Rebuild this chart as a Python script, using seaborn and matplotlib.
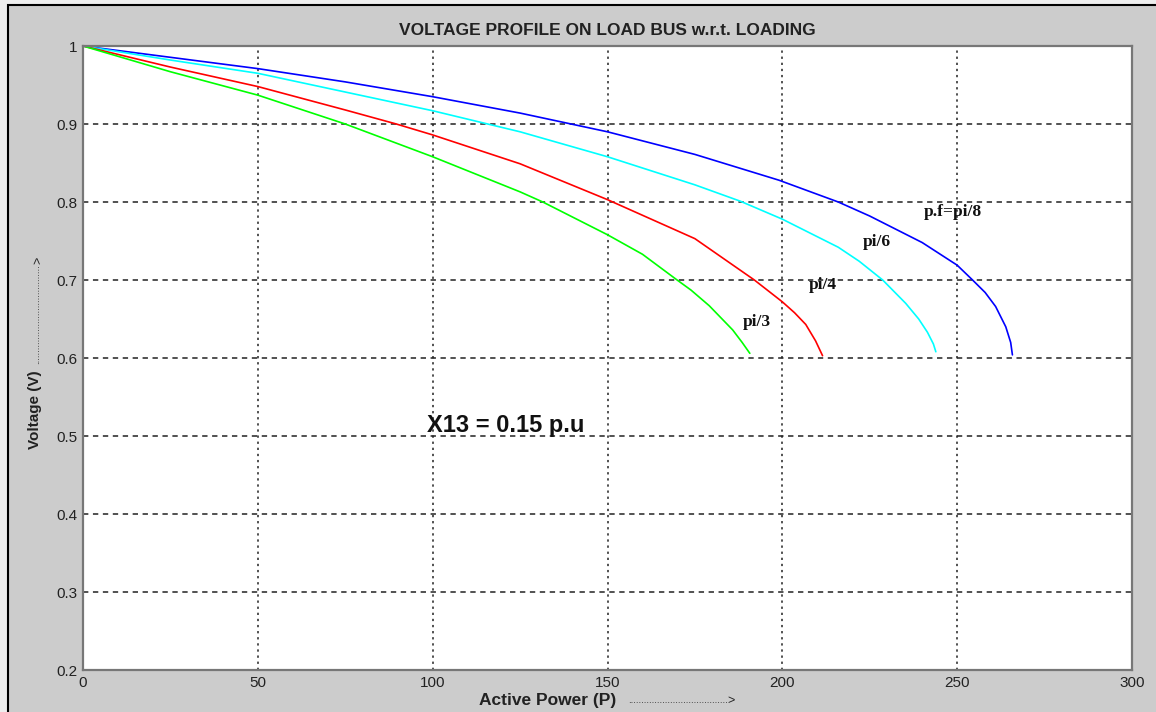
import matplotlib
matplotlib.use("Agg")
import matplotlib.pyplot as plt
from matplotlib.patches import Rectangle
import seaborn as sns
import pandas as pd

# ---- data ----
p_pi8 = [0, 25, 50, 75, 100, 125, 137.5, 150, 175, 199, 216, 225, 240, 250, 254.4, 258, 261, 263.9, 265.3, 265.8]
v_pi8 = [1.0, 0.9855, 0.971, 0.954, 0.935, 0.914, 0.902, 0.890, 0.861, 0.828, 0.800, 0.782, 0.748, 0.719, 0.700, 0.684, 0.666, 0.640, 0.620, 0.604]

p_pi6 = [0, 25, 50, 75, 100, 125, 150, 175, 188, 200, 216, 222, 228.7, 235.3, 239, 241.5, 243.2, 243.9]
v_pi6 = [1.0, 0.982, 0.965, 0.941, 0.917, 0.890, 0.858, 0.822, 0.801, 0.778, 0.742, 0.724, 0.700, 0.670, 0.650, 0.633, 0.618, 0.608]

p_pi4 = [0, 25, 50, 75, 89.6, 100, 125, 150, 175, 192, 200, 203.5, 206.7, 209.5, 211.5]
v_pi4 = [1.0, 0.973, 0.948, 0.918, 0.90, 0.886, 0.849, 0.803, 0.753, 0.700, 0.672, 0.658, 0.643, 0.622, 0.603]

p_pi3 = [0, 25, 50, 75, 100, 125, 131.5, 150, 160, 169.6, 173.9, 179.1, 185.8, 188.5, 190.7]
v_pi3 = [1.0, 0.967, 0.937, 0.900, 0.858, 0.813, 0.800, 0.758, 0.733, 0.701, 0.687, 0.667, 0.636, 0.620, 0.606]

series_names = ["pi/8", "pi/6", "pi/4", "pi/3"]
series_colors = {"pi/8": "#0000ff", "pi/6": "#00ffff", "pi/4": "#ff0000", "pi/3": "#00ff00"}

label_texts = ["p.f=pi/8", "pi/6", "pi/4", "pi/3"]
label_pos = [(248.9, 0.787), (227.0, 0.749), (211.7, 0.694), (192.6, 0.646)]

x_ticks = [0, 50, 100, 150, 200, 250, 300]
y_ticks = [0.2, 0.3, 0.4, 0.5, 0.6, 0.7, 0.8, 0.9, 1.0]
y_tick_labels = ["0.2", "0.3", "0.4", "0.5", "0.6", "0.7", "0.8", "0.9", "1"]

title = "VOLTAGE PROFILE ON LOAD BUS w.r.t. LOADING"
xlabel = "Active Power (P)"
ylabel = "Voltage (V)"
arrow_dots = "." * 38
arrow_head = ">"
note = "X13 = 0.15 p.u"
note_pos = (120.9, 0.514)

frames = []
for name, p, v in zip(series_names, [p_pi8, p_pi6, p_pi4, p_pi3], [v_pi8, v_pi6, v_pi4, v_pi3]):
    frames.append(pd.DataFrame({"P": p, "V": v, "pf": name}))
df = pd.concat(frames, ignore_index=True)

sns.set_style("white")
plt.rcParams["font.family"] = ["Liberation Sans", "DejaVu Sans"]

W, H = 1156, 712
fig = plt.figure(figsize=(W / 100, H / 100), dpi=100)
fig.patch.set_facecolor("#eeeeee")
bg = Rectangle((8 / W, -0.1), 1.2, (H - 5) / H + 0.1, transform=fig.transFigure,
               facecolor="#cccccc", edgecolor="black", linewidth=1.5, zorder=-10)
fig.patches.append(bg)

ax = fig.add_axes([83 / W, (H - 670) / H, (1132 - 83) / W, (670 - 46) / H])
ax.set_zorder(5)
ax.set_facecolor("white")

sns.lineplot(data=df, x="P", y="V", hue="pf", palette=series_colors, sort=False,
             estimator=None, legend=False, linewidth=1.2, ax=ax)

ax.set_xlim(0, 300)
ax.set_ylim(0.2, 1.0)
ax.set_xticks(x_ticks)
ax.set_yticks(y_ticks)
ax.set_yticklabels(y_tick_labels)

ax.xaxis.grid(True, linestyle=(0, (1.5, 2.5)), color="#222222", linewidth=1.1)
ax.yaxis.grid(True, linestyle=(0, (3.5, 3.0)), color="#222222", linewidth=1.1)
ax.set_axisbelow(True)

for s in ax.spines.values():
    s.set_visible(True)
    s.set_color("#777777")
    s.set_linewidth(1.6)

ax.tick_params(direction="in", length=5, width=1, colors="#555555",
               labelcolor="#222222", labelsize=11, pad=4)

ax.set_title(title, fontsize=12.5, fontweight="bold", color="#222222", pad=8)

# axis labels with their dotted arrows
AXW, AXH = 1132 - 83, 670 - 46
ax.set_xlabel(xlabel, fontsize=12.5, fontweight="bold", color="#222222", va="center")
ax.xaxis.set_label_coords((547.5 - 83) / AXW, -(700 - 670) / AXH)
xdots = ax.text((628 - 83) / AXW, -(703 - 670) / AXH, arrow_dots, transform=ax.transAxes,
                ha="left", va="baseline", fontsize=7, color="#222222")
ax.annotate(arrow_head, xy=(1, 0), xycoords=xdots, ha="left", va="bottom",
            xytext=(0, -1.5), textcoords="offset points", fontsize=9, color="#222222")

ax.set_ylabel(ylabel, fontsize=11, fontweight="bold", color="#222222", va="center")
ax.yaxis.set_label_coords(-(83 - 35) / AXW, (670 - 410) / AXH)
ydots = ax.text(-(83 - 36) / AXW, (670 - 364) / AXH, arrow_dots, transform=ax.transAxes,
                ha="center", va="bottom", rotation=90, fontsize=7, color="#222222")
ax.annotate(arrow_head, xy=(0.5, 1), xycoords=ydots, ha="center", va="bottom",
            xytext=(1.5, 0), textcoords="offset points",
            rotation=90, fontsize=9, color="#222222")

for t, (x, y) in zip(label_texts, label_pos):
    ax.text(x, y, t, ha="center", va="center", fontsize=12.5, fontweight="bold",
            family="Liberation Serif", color="#111111")

ax.text(note_pos[0], note_pos[1], note, ha="center", va="center", fontsize=17,
        fontweight="bold", color="#111111")

fig.savefig("out.png", dpi=100, facecolor=fig.get_facecolor())
